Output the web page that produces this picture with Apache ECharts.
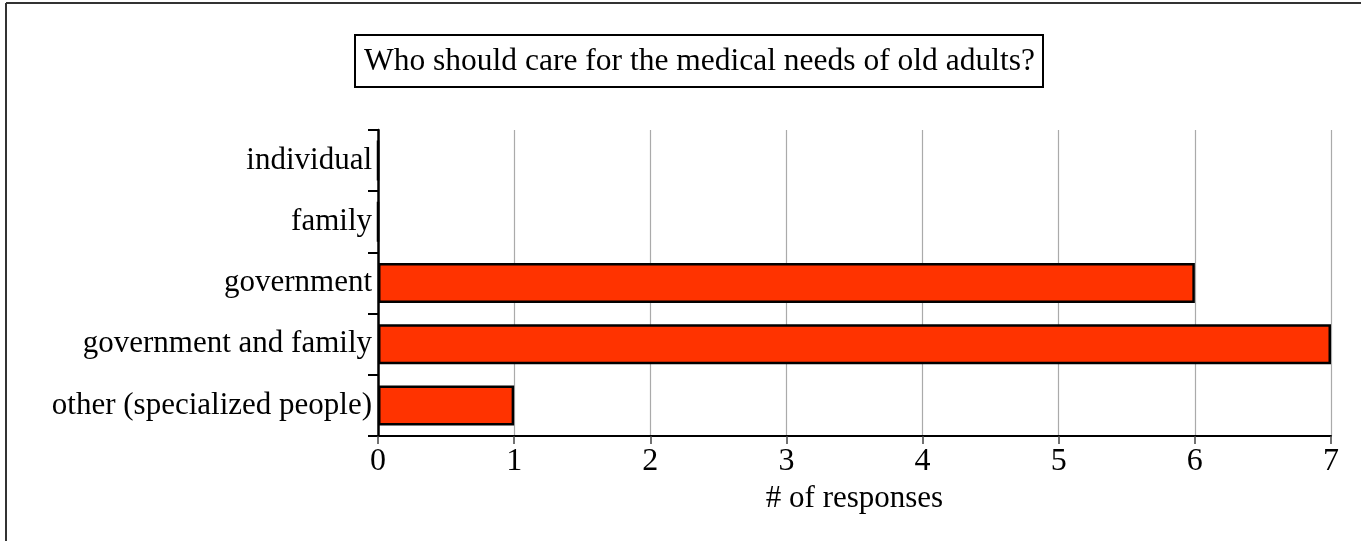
<!DOCTYPE html>
<html>
<head>
<meta charset="utf-8">
<script src="https://cdn.jsdelivr.net/npm/echarts@6/dist/echarts.min.js"></script>
<style>html,body{margin:0;padding:0;background:#fff}#c{width:1367px;height:541px}</style>
</head>
<body>
<div id="c"></div>
<script>
const categories = ["individual", "family", "government", "government and family", "other (specialized people)"];
const responses = [0, 0, 6, 7, 1];
const xTicks = [0, 1, 2, 3, 4, 5, 6, 7];
const titleText = "Who should care for the medical needs of old adults?";
const xName = "# of responses";

const FONT = "'Liberation Serif', 'DejaVu Serif', serif";
const chart = echarts.init(document.getElementById('c'), null, {renderer: 'canvas'});
chart.setOption({
  animation: false,
  backgroundColor: '#fff',
  title: {
    text: titleText,
    left: 355, top: 35,
    padding: [9, 8, 7, 9],
    borderColor: '#000', borderWidth: 2,
    textStyle: {fontFamily: FONT, fontSize: 31.5, fontWeight: 'normal', color: '#000', lineHeight: 36}
  },
  graphic: [
    {type: 'line', shape: {x1: 6, y1: 3, x2: 1361, y2: 3}, style: {stroke: '#333', lineWidth: 2}},
    {type: 'line', shape: {x1: 6, y1: 3, x2: 6, y2: 541}, style: {stroke: '#333', lineWidth: 2}}
  ],
  grid: {left: 378, right: 36, top: 130, bottom: 105, containLabel: false},
  xAxis: {
    type: 'value', min: xTicks[0], max: xTicks[xTicks.length - 1], interval: 1,
    name: xName, nameLocation: 'middle', nameGap: 46,
    nameTextStyle: {fontFamily: FONT, fontSize: 31, color: '#000'},
    axisLine: {show: true, lineStyle: {color: '#000', width: 2}},
    axisTick: {show: true, length: 8, lineStyle: {color: '#444', width: 1.5}},
    axisLabel: {fontFamily: FONT, fontSize: 32, color: '#000', margin: 10},
    splitLine: {show: true, lineStyle: {color: '#aaa', width: 1.2}}
  },
  yAxis: {
    type: 'category', data: categories, inverse: true,
    axisLine: {show: true, lineStyle: {color: '#000', width: 2.5}},
    axisTick: {show: true, length: 10, lineStyle: {color: '#000', width: 2}},
    axisLabel: {fontFamily: FONT, fontSize: 31, color: '#000', margin: 6},
    splitLine: {show: false}
  },
  series: [{
    type: 'bar', data: responses, barWidth: 40,
    itemStyle: {color: '#ff3300', borderColor: '#000', borderWidth: 2.5}
  }]
});
</script>
</body>
</html>
